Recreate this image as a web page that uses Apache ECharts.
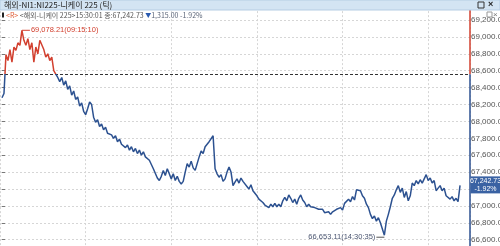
<!DOCTYPE html>
<html><head><meta charset="utf-8">
<script src="https://cdn.jsdelivr.net/npm/echarts@6/dist/echarts.min.js"></script>
<style>html,body{margin:0;padding:0;background:#fff;overflow:hidden}#c{width:500px;height:246px}</style>
</head><body><div id="c"></div>
<script>
// ---- data ----
const titleText = '해외-NI1:NI225-니케이 225 (틱)';
const headerName = '<해외-니케이 225>';
const headerTime = '15:30:01';
const lastPrice = 67242.73;
const change = -1315.00;
const changePct = -1.92;
const prevClose = 68557.73;
const maxPrice = 69078.21, maxTime = '09:15:10';
const minPrice = 66653.11, minTime = '14:30:35';
const yMin = 66400, yMax = 69400, yStep = 200;
const prices = [
 68280,68330,68790,68720,68850,68700,68880,68840,68930,68900,
 69078.21,68960,68900,68980,68850,68930,68700,68880,68800,68960,
 68940,68850,68760,68800,68720,68760,68600,68560,68520,68470,
 68520,68430,68480,68380,68420,68310,68360,68260,68290,68180,
 68220,68120,68080,68150,68230,68200,68050,67990,68020,67940,
 67970,67900,67930,67860,67880,67840,67800,67830,67760,67790,
 67730,67750,67690,67720,67660,67700,67640,67680,67620,67660,
 67600,67640,67580,67560,67540,67530,67440,67460,67330,67300,
 67350,67420,67360,67440,67380,67320,67380,67300,67350,67290,
 67260,67290,67400,67500,67460,67530,67450,67420,67500,67580,
 67650,67620,67700,67680,67760,67740,67830,67440,67380,67340,
 67370,67290,67320,67400,67460,67400,67240,67280,67320,67270,
 67330,67290,67310,67230,67200,67250,67180,67160,67120,67080,
 67100,67040,67010,67030,66980,67020,66990,67030,66990,67020,
 66990,67060,67100,67060,67130,67090,67040,67080,67020,67090,
 67130,67070,67040,66990,67020,66990,67010,66980,67000,66960,
 66940,66960,66920,66900,66930,66900,66930,66910,66960,66940,
 66980,66950,67030,67010,67080,67050,67110,67070,67190,67210,
 67180,67120,67090,67020,66980,66900,66850,66880,66820,66860,
 66800,66790,66653.11,66820,66900,66990,67090,67130,67190,67240,
 67160,67210,67100,67170,67060,67120,67270,67240,67300,67260,
 67310,67270,67320,67370,67300,67330,67270,67300,67180,67210,
 67240,67180,67210,67120,67140,67080,67110,67060,67090,67050,
 67242.73
];

// ---- styling ----
const RED = '#d2402f', BLUE = '#2c5190', GRID = '#d6d6d6';
const FONT = "'Liberation Sans Narrow','Liberation Sans','Noto Sans CJK KR',sans-serif";
const KFONT = "'Liberation Sans Narrow','Noto Sans CJK KR',sans-serif";
const fmt = v => v.toLocaleString('en-US', {minimumFractionDigits: 2, maximumFractionDigits: 2});

const maxIdx = prices.indexOf(maxPrice);
const minIdx = prices.indexOf(minPrice);
const data = prices.map((v, i) => [i, v]);

const chart = echarts.init(document.getElementById('c'), null, {renderer: 'canvas'});
const option = {
  animation: false,
  backgroundColor: '#fff',
  grid: {left: 0, right: 30, top: 3.1, bottom: -10.6, containLabel: false, outerBoundsMode: 'none'},
  xAxis: [
    {type: 'value', min: -1, max: prices.length + 4, show: false},
    {type: 'value', min: 0, max: 470, interval: 85.6, show: true,
     axisLine: {show: false}, axisTick: {show: false}, axisLabel: {show: false},
     splitLine: {show: true, lineStyle: {color: GRID, type: [2, 2], width: 1}}}
  ],
  yAxis: {
    type: 'value', position: 'right', min: yMin, max: yMax, interval: yStep,
    axisLine: {show: false},
    axisTick: {show: true, length: 3, lineStyle: {color: '#777'}},
    axisLabel: {show: true, margin: 1, color: '#555', fontSize: 8, fontFamily: FONT,
      formatter: v => fmt(v)},
    splitLine: {show: true, lineStyle: {color: GRID, type: [2, 2], width: 1}}
  },
  series: [{
    type: 'line', data: data, xAxisIndex: 0, showSymbol: false, symbol: 'none',
    lineStyle: {width: 1.5, color: BLUE}, z: 5,
    markLine: {
      silent: true, symbol: 'none', animation: false,
      label: {show: false},
      lineStyle: {color: '#333', type: [3, 2], width: 1},
      data: [{yAxis: prevClose}]
    },
    markPoint: {
      animation: false,
      data: [
        {coord: [maxIdx, maxPrice], symbol: 'rect', symbolSize: [8, 1], symbolOffset: [4, 0],
         itemStyle: {color: RED},
         label: {show: true, position: 'right', distance: 1, color: RED, fontSize: 7.5, fontFamily: FONT,
           formatter: fmt(maxPrice) + '(' + maxTime + ')'}},
        {coord: [minIdx, minPrice], symbol: 'rect', symbolSize: [8, 1], symbolOffset: [-4, 2],
         itemStyle: {color: '#555'},
         label: {show: true, position: 'left', distance: 1, color: '#4a5570', fontSize: 7.5, fontFamily: FONT,
           formatter: fmt(minPrice) + '(' + minTime + ')'}}
      ]
    }
  }]
};
chart.setOption(option);

// decorations placed through the chart's own scales
const gridRight = 470;
const yTop = chart.convertToPixel({yAxisIndex: 0}, yMax);
const yPrev = chart.convertToPixel({yAxisIndex: 0}, prevClose);
const yBot = chart.convertToPixel({yAxisIndex: 0}, yMin);
const yLast = chart.convertToPixel({yAxisIndex: 0}, lastPrice);
const f = (yPrev - yTop) / (yBot - yTop);

chart.setOption({
  series: [{
    lineStyle: {width: 1.5, color: new echarts.graphic.LinearGradient(0, yTop, 0, yBot, [
      {offset: 0, color: RED}, {offset: f, color: RED}, {offset: f, color: BLUE}, {offset: 1, color: BLUE}
    ], true)}
  }],
  graphic: [
    {type: 'line', shape: {x1: gridRight, y1: yTop, x2: gridRight, y2: yPrev}, style: {stroke: RED, lineWidth: 1.5}, z: 50},
    {type: 'line', shape: {x1: gridRight, y1: yPrev, x2: gridRight, y2: yBot}, style: {stroke: BLUE, lineWidth: 1.5}, z: 50},
    {type: 'rect', shape: {x: 470.5, y: yLast - 9, width: 29.5, height: 17}, style: {fill: '#3a62a3'}, z: 60},
    {type: 'text', x: 485.5, y: yLast - 4.5, style: {text: fmt(lastPrice), fill: '#fff', font: '7px ' + FONT, align: 'center', verticalAlign: 'middle'}, z: 61},
    {type: 'text', x: 485.5, y: yLast + 3.5, style: {text: changePct.toFixed(2) + '%', fill: '#fff', font: '7px ' + FONT, align: 'center', verticalAlign: 'middle'}, z: 61},
    // title bar
    {type: 'rect', shape: {x: 0, y: 0, width: 500, height: 10}, style: {fill: '#d3e4f3', stroke: '#b5cde3', lineWidth: 1}, z: 70},
    {type: 'text', x: 4, y: 5, style: {text: titleText, fill: '#222', font: '8px ' + KFONT, verticalAlign: 'middle'}, z: 71},
    {type: 'rect', shape: {x: 478, y: 2, width: 6, height: 6}, style: {fill: 'none', stroke: '#333', lineWidth: 1}, z: 71},
    {type: 'text', x: 488, y: 5, style: {text: '×', fill: '#222', font: 'bold 9px ' + FONT, verticalAlign: 'middle'}, z: 71},
    {type: 'rect', shape: {x: 487, y: 12, width: 5, height: 5}, style: {fill: '#fff', stroke: '#999', lineWidth: 1}, z: 71},
    {type: 'text', x: 493, y: 14.5, style: {text: '×', fill: '#777', font: '8px ' + FONT, verticalAlign: 'middle'}, z: 71},
    // header
    {type: 'rect', shape: {x: 2, y: 12.5, width: 2, height: 5}, style: {fill: '#222'}, z: 71},
    {type: 'text', x: 6, y: 15, z: 71, style: {
      text: '{r|<R>} {m|' + headerName + headerTime + ' 종:' + fmt(lastPrice) + '} {d|▼}{c|' + fmt(Math.abs(change)) + ' ' + changePct.toFixed(2) + '%}',
      verticalAlign: 'middle', font: '7px ' + KFONT,
      rich: {
        r: {fill: '#e0603a', font: '7px ' + KFONT},
        m: {fill: '#555', font: '7px ' + KFONT},
        d: {fill: '#2a5bb0', font: '6px ' + KFONT},
        c: {fill: '#5a6478', font: '7px ' + KFONT}
      }}}
  ]
});
</script></body></html>
